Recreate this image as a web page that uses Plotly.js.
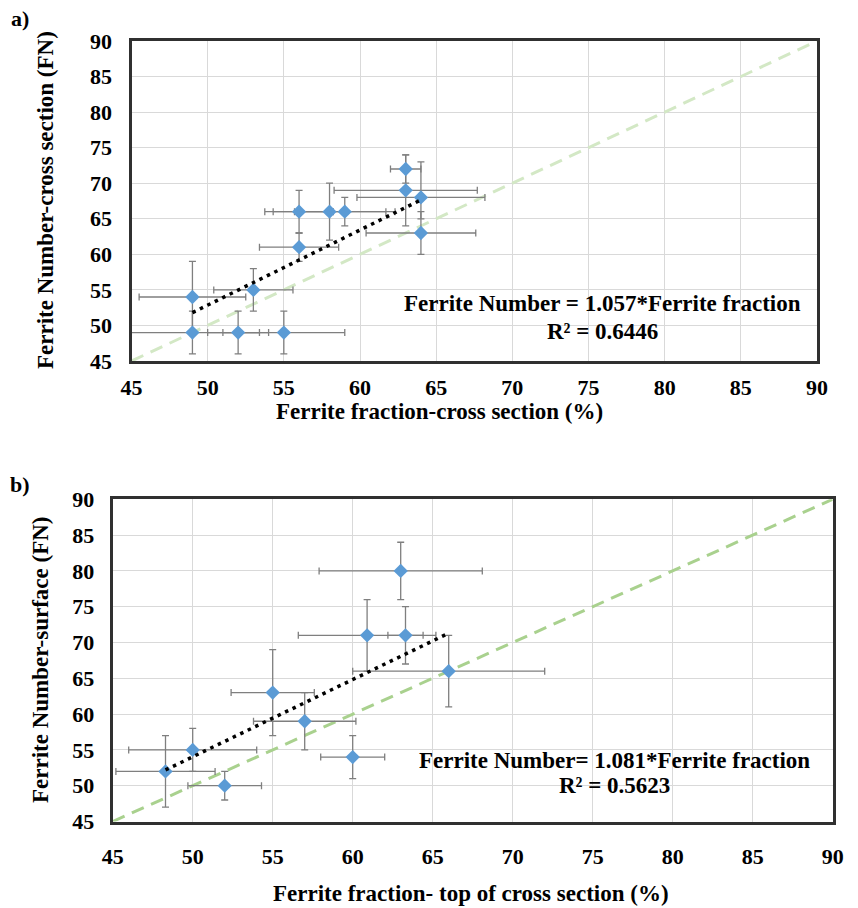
<!DOCTYPE html>
<html>
<head>
<meta charset="utf-8">
<script src="https://cdn.plot.ly/plotly-3.0.1.min.js"></script>
<style>html,body{margin:0;padding:0;background:#fff;}#chart{width:858px;height:908px;}</style>
</head>
<body>
<div id="chart"></div>
<script>
// Panel a data
var xA = [49, 49, 52, 55, 53, 56, 56, 58, 59, 63, 63, 64, 64];
var yA = [54, 49, 49, 49, 55, 61, 66, 66, 66, 72, 69, 68, 63];
var xErrA = [3.5, 4.4, 2, 4, 2.6, 2.6, 2.25, 3.7, 3.3, 1, 4.7, 4.2, 3.6];
var yErrPlusA = [5, 3, 3, 3, 3, 2, 3, 4, 2, 2, 5, 5, 3];
var yErrMinusA = [5, 3, 3, 3, 3, 2, 3, 4, 2, 2, 5, 3, 3];
var trendXA = [49, 64];
var trendYA = [51.8, 67.65];

// Panel b data
var xB = [48.3, 50, 52, 55, 57, 60, 60.9, 63.3, 63, 66];
var yB = [52, 55, 50, 63, 59, 54, 71, 71, 80, 66];
var xErrB = [3.1, 4, 2.3, 2.6, 3.2, 2, 4.3, 1.1, 5.1, 6];
var yErrB = [5, 3, 2, 6, 4, 3, 5, 4, 4, 5];
var trendXB = [48.3, 66];
var trendYB = [52.2, 71.3];

// identity line and ticks
var identX = [45, 90];
var identY = [45, 90];
var tickVals = [45, 50, 55, 60, 65, 70, 75, 80, 85, 90];

var FONT = 'Liberation Serif, Times New Roman, serif';
var blue = '#5b9bd5';
var errColor = '#7f7f7f';

var traces = [
  {x: identX, y: identY, xaxis: 'x', yaxis: 'y', mode: 'lines', line: {color: '#d3e8c5', width: 3, dash: '13px,8px'}, hoverinfo: 'skip'},
  {x: xA, y: yA, xaxis: 'x', yaxis: 'y', mode: 'markers',
   marker: {symbol: 'diamond', size: 11, color: blue},
   error_x: {type: 'data', array: xErrA, color: errColor, thickness: 1.3, width: 3.5},
   error_y: {type: 'data', symmetric: false, array: yErrPlusA, arrayminus: yErrMinusA, color: errColor, thickness: 1.3, width: 3.5}},
  {x: trendXA, y: trendYA, xaxis: 'x', yaxis: 'y', mode: 'lines', line: {color: '#000', width: 3.5, dash: '3.5px,4.8px'}},

  {x: identX, y: identY, xaxis: 'x2', yaxis: 'y2', mode: 'lines', line: {color: '#a9d18e', width: 3, dash: '13px,8px'}, hoverinfo: 'skip'},
  {x: xB, y: yB, xaxis: 'x2', yaxis: 'y2', mode: 'markers',
   marker: {symbol: 'diamond', size: 11, color: blue},
   error_x: {type: 'data', array: xErrB, color: errColor, thickness: 1.3, width: 3.5},
   error_y: {type: 'data', array: yErrB, color: errColor, thickness: 1.3, width: 3.5}},
  {x: trendXB, y: trendYB, xaxis: 'x2', yaxis: 'y2', mode: 'lines', line: {color: '#000', width: 3.5, dash: '3.5px,4.8px'}}
];

function axis(domain, anchor, standoff) {
  return {
    domain: domain, anchor: anchor, range: [45, 90], tickvals: tickVals, ticktext: tickVals.map(String),
    showgrid: true, gridcolor: '#d9d9d9', gridwidth: 1, zeroline: false,
    showline: true, linecolor: '#303030', linewidth: 3, mirror: true,
    ticks: '', ticklabelstandoff: standoff,
    tickfont: {family: FONT, size: 22, color: '#000', weight: 'bold'}
  };
}

var W = 858, H = 908;
function fx(px) { return px / W; }
function fy(py) { return 1 - py / H; }

function ann(px, py, text, size, angle) {
  return {xref: 'paper', yref: 'paper', x: fx(px), y: fy(py), text: '<b>' + text + '</b>',
    showarrow: false, xanchor: 'center', yanchor: 'middle', textangle: angle || 0,
    font: {family: FONT, size: size, color: '#000'}};
}

var layout = {
  width: W, height: H,
  margin: {l: 0, r: 0, t: 0, b: 0},
  paper_bgcolor: '#fff', plot_bgcolor: '#fff',
  showlegend: false,
  xaxis: axis([fx(131.5), fx(817)], 'y', 5),
  yaxis: axis([fy(361), fy(41)], 'x', 12),
  xaxis2: axis([fx(112.7), fx(832.7)], 'y2', 13),
  yaxis2: axis([fy(821.5), fy(499.3)], 'x2', 11),
  font: {family: FONT, color: '#000'},
  annotations: [
    ann(20, 18, 'a)', 22),
    ann(20, 484, 'b)', 22),
    ann(440, 411, 'Ferrite fraction-cross section (%)', 23),
    ann(46, 200, 'Ferrite Number-cross section (FN)', 23, -90),
    ann(471, 893, 'Ferrite fraction- top of cross section (%)', 23),
    ann(40, 660, 'Ferrite Number-surface (FN)', 23, -90),
    ann(602, 304, 'Ferrite Number = 1.057*Ferrite fraction', 23),
    ann(602, 331, 'R² = 0.6446', 23),
    ann(614, 760, 'Ferrite Number= 1.081*Ferrite fraction', 23),
    ann(614, 785, 'R² = 0.5623', 23)
  ]
};

Plotly.newPlot('chart', traces, layout, {displayModeBar: false, staticPlot: true});
</script>
</body>
</html>
